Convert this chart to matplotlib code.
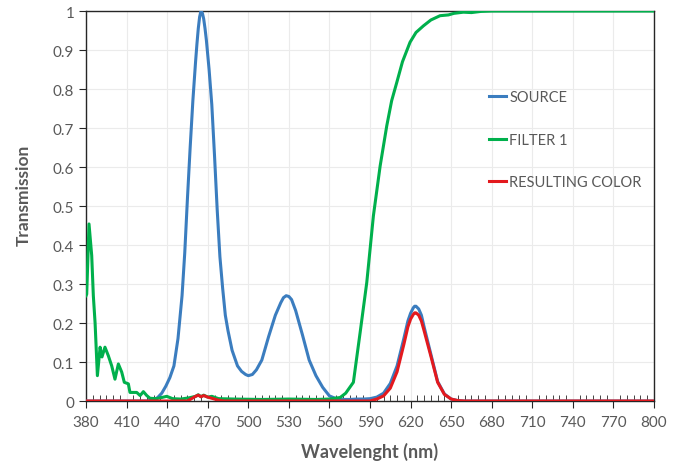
import numpy as np
import matplotlib.pyplot as plt
from matplotlib.ticker import MultipleLocator

plt.rcParams['font.family'] = ['Lato', 'DejaVu Sans']

# source spectrum
src_nm = [380, 425, 430, 433, 436, 439, 442, 445, 448, 451, 453, 455, 457, 459, 461, 462, 463, 464, 465,
          466, 467, 468, 469, 471, 473, 475, 477, 479, 481, 483, 485, 488, 492, 495, 498, 500, 503, 506, 510,
          515, 520, 524, 526, 528, 530, 532, 535, 540, 545, 550, 555, 560, 565, 570, 575, 580, 585,
          590, 595, 600, 605, 610, 615, 618, 620, 622, 623, 624, 626, 628, 630, 635, 640, 645, 650, 655,
          660, 800]
src_val = [0.0, 0.0, 0.003, 0.009, 0.02, 0.038, 0.06, 0.09, 0.16, 0.27, 0.38, 0.52, 0.65, 0.77, 0.87, 0.915, 0.955, 0.985, 1.0,
           0.995, 0.98, 0.955, 0.925, 0.85, 0.76, 0.63, 0.49, 0.37, 0.29, 0.22, 0.18, 0.13, 0.09, 0.076, 0.068, 0.065, 0.068, 0.08, 0.105,
           0.165, 0.22, 0.252, 0.265, 0.27, 0.268, 0.26, 0.232, 0.17, 0.105, 0.065, 0.035, 0.013, 0.006, 0.004, 0.004, 0.005, 0.005,
           0.006, 0.01, 0.02, 0.045, 0.09, 0.16, 0.205, 0.225, 0.239, 0.243, 0.243, 0.236, 0.22, 0.19, 0.12, 0.05, 0.018, 0.005, 0.001,
           0.0, 0.0]

# filter 1 transmission
flt_nm = [380, 380.5, 382.2, 384.2, 385.4, 386.7, 388.4, 390.4, 391.8, 394, 396.5, 399, 401.4, 403.9,
          406.4, 408.3, 411.3, 412.5, 417.5, 420, 422.4, 424.9, 427.3, 432, 436, 439.7, 444, 450,
          456, 461, 463, 465, 467, 470, 473, 478, 490, 510, 530, 550, 560, 567.9, 572, 577.7,
          582.7, 587.6, 592.5, 597.5, 602.4, 606, 609.8, 614, 619.6, 624, 629.5, 635, 641.8, 648, 652,
          659, 665, 672, 680, 700, 740, 780, 800]
flt_val = [0.27, 0.274, 0.454, 0.373, 0.27, 0.2, 0.065, 0.138, 0.113, 0.138, 0.116, 0.09, 0.056, 0.095,
           0.074, 0.048, 0.044, 0.022, 0.022, 0.014, 0.024, 0.014, 0.007, 0.006, 0.009, 0.012, 0.006, 0.005,
           0.008, 0.012, 0.016, 0.011, 0.015, 0.01, 0.012, 0.006, 0.005, 0.004, 0.005, 0.004, 0.005, 0.009, 0.02, 0.048,
           0.176, 0.304, 0.475, 0.603, 0.706, 0.77, 0.817, 0.87, 0.92, 0.945, 0.962, 0.977, 0.988, 0.99, 0.994,
           0.997, 0.996, 0.999, 1.0, 1.0, 1.0, 1.0, 1.0]

# resulting color
res_nm = [380, 455, 458, 461, 463, 465, 467, 470, 474, 478, 482, 590, 595, 600, 605, 610, 615,
          618, 620, 622, 623, 624, 626, 628, 630, 635, 640, 645, 650, 655, 660, 800]
res_val = [0.0, 0.0, 0.006, 0.012, 0.015, 0.011, 0.014, 0.01, 0.006, 0.002, 0.0, 0.0, 0.005, 0.013, 0.033, 0.075, 0.145,
           0.19, 0.21, 0.222, 0.226, 0.226, 0.22, 0.205, 0.18, 0.115, 0.048, 0.017, 0.005, 0.001, 0.0, 0.0]

x_ticks = list(range(380, 801, 30))
gray = '#595959'

fig = plt.figure(figsize=(6.79, 4.64), dpi=100)
ax = fig.add_axes([0.1267, 0.1336, 0.8365, 0.8405])

ax.plot(src_nm, src_val, color='#3B7DBF', linewidth=2.2, label='SOURCE', zorder=3,
        solid_joinstyle='round')
ax.plot(flt_nm, flt_val, color='#00B04C', linewidth=2.2, label='FILTER 1', zorder=3,
        solid_joinstyle='round')
ax.plot(res_nm, res_val, color='#E3191E', linewidth=2.2, label='RESULTING COLOR', zorder=4,
        solid_joinstyle='round')

ax.set_xlim(380, 800)
ax.set_ylim(0, 1)
ax.set_xticks(x_ticks)
ax.xaxis.set_minor_locator(MultipleLocator(5))
ax.set_yticks(np.arange(0, 1.01, 0.1))
ax.set_yticklabels(['0', '0.1', '0.2', '0.3', '0.4', '0.5', '0.6', '0.7', '0.8', '0.9', '1'])
ax.grid(True, which='major', color='#EBEBEB', linewidth=0.8)
ax.set_axisbelow(True)

for s in ax.spines.values():
    s.set_color('#262626')
    s.set_linewidth(1.0)

ax.tick_params(axis='both', which='major', labelsize=11, colors='#262626', labelcolor=gray, length=5, width=0.8)
ax.tick_params(axis='x', which='minor', direction='in', length=4, width=0.6, colors='#262626')
ax.tick_params(axis='x', which='major', pad=5)

ax.set_xlabel('Wavelenght (nm)', fontsize=13, fontweight='bold', color=gray, labelpad=9)
ax.set_ylabel('Transmission', fontsize=12.5, fontweight='bold', color=gray, labelpad=14)
ax.yaxis.set_label_coords(-0.095, 0.53)

leg = ax.legend(loc='upper left', bbox_to_anchor=(0.699, 0.812), frameon=False, fontsize=10.5,
                handlelength=1.2, handletextpad=0.2, labelspacing=1.95, borderaxespad=0)
for t in leg.get_texts():
    t.set_color(gray)

fig.savefig('out.png', dpi=100)
